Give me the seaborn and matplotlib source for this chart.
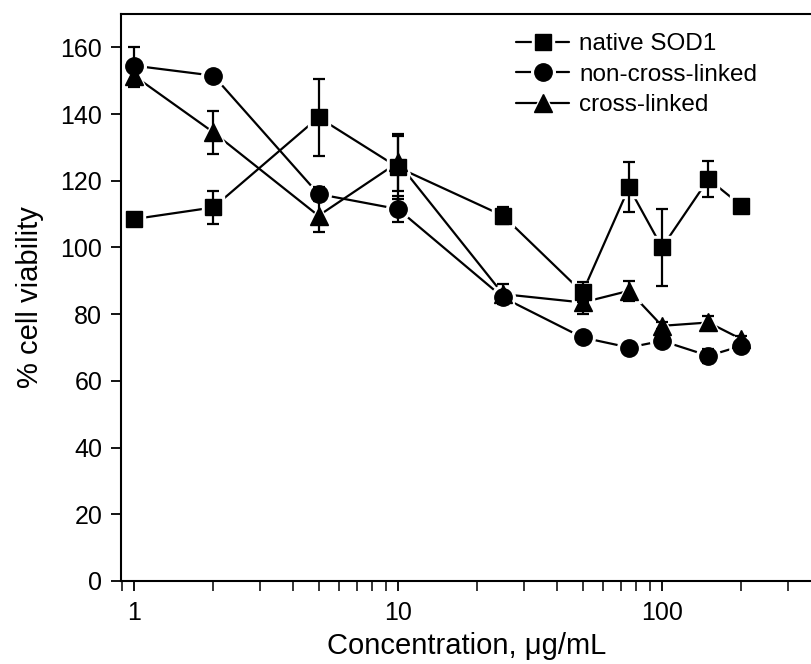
import numpy as np
import pandas as pd
import seaborn as sns
import matplotlib.pyplot as plt
from matplotlib.lines import Line2D
from matplotlib.legend_handler import HandlerTuple
from matplotlib.ticker import LogLocator, NullFormatter, FixedLocator

# data
conc = [1, 2, 5, 10, 25, 50, 75, 100, 150, 200]

native = [108.5, 112, 139, 124, 109.5, 86.5, 118, 100, 120.5, 112.5]
native_err = [1, 5, 11.5, 9.5, 2.5, 3, 7.5, 11.5, 5.5, 1.5]

noncl = [154.5, 151.5, 116, 111.5, 85, 73, 70, 72, 67.5, 70.5]
noncl_err = [5.5, 1, 2, 4, 1, 1, 1, 1, 2, 1]

cross = [151.5, 134.5, 109.5, 125.5, 86, 83.5, 87, 76.5, 77.5, 72.5]
cross_err = [3.5, 6.5, 5, 8.5, 3, 3.5, 3, 1, 2, 1]

series = [
    ("native SOD1", native, native_err, "s", 11.5),
    ("non-cross-linked", noncl, noncl_err, "o", 12.5),
    ("cross-linked", cross, cross_err, "^", 13),
]

sns.set_theme(style="ticks")
plt.rcParams['font.family'] = ['Liberation Sans', 'DejaVu Sans']
plt.rcParams['text.color'] = 'black'

fig = plt.figure(figsize=(8.12, 6.64), dpi=100)
ax = fig.add_axes([0.149, 0.125, 0.851, 0.854])

lw = 1.6
halo = 4.5
handles = []
for name, vals, err, mk, ms in series:
    df = pd.DataFrame({"conc": conc, "val": vals})
    # connecting line
    sns.lineplot(data=df, x="conc", y="val", ax=ax, color="black",
                 linewidth=lw, zorder=2, legend=False)
    # white halo so the lines stop short of the symbols
    ax.plot(conc, vals, linestyle="none", marker=mk, markersize=ms + halo,
            markerfacecolor="white", markeredgecolor="white", zorder=3)
    ax.errorbar(conc, vals, yerr=err, fmt="none", ecolor="black",
                elinewidth=lw, capsize=4, capthick=lw, zorder=4)

for name, vals, err, mk, ms in series:
    ax.plot(conc, vals, linestyle="none", marker=mk, markersize=ms,
            markerfacecolor="black", markeredgecolor="black", zorder=5)
    h_line = Line2D([], [], color="black", linewidth=lw)
    h_halo = Line2D([], [], linestyle="none", marker=mk, markersize=ms + halo,
                    markerfacecolor="white", markeredgecolor="white")
    h_mark = Line2D([], [], linestyle="none", marker=mk, markersize=ms,
                    markerfacecolor="black", markeredgecolor="black")
    handles.append((h_line, h_halo, h_mark))

ax.set_xscale("log")
ax.set_xlim(0.893, 370)
ax.set_ylim(0, 170)
ax.set_yticks(np.arange(0, 161, 20))
ax.xaxis.set_major_locator(FixedLocator([1, 10, 100]))
ax.set_xticklabels(["1", "10", "100"])
ax.xaxis.set_minor_locator(LogLocator(base=10, subs=np.arange(2, 10)))
ax.xaxis.set_minor_formatter(NullFormatter())

ax.tick_params(axis="both", which="major", direction="out", length=7.5,
               width=1.3, labelsize=18, color="black", labelcolor="black")
ax.tick_params(axis="y", which="major", pad=6)
ax.tick_params(axis="x", which="major", pad=7)
ax.tick_params(axis="x", which="minor", direction="out", length=7,
               width=1.1, color="black")

for side in ["left", "bottom", "top"]:
    ax.spines[side].set_visible(True)
    ax.spines[side].set_linewidth(1.5)
    ax.spines[side].set_color("black")
ax.spines["right"].set_visible(False)

ax.set_xlabel("Concentration, μg/mL", fontsize=21, color="black", labelpad=5)
ax.set_ylabel("% cell viability", fontsize=21, color="black", labelpad=12)

leg = ax.legend(handles, [s[0] for s in series],
                handler_map={tuple: HandlerTuple(ndivide=1, pad=0)},
                loc="upper left", bbox_to_anchor=(516 / 812, 1 - 33 / 664),
                bbox_transform=fig.transFigure, frameon=False,
                fontsize=17.5, handlelength=2.2, handletextpad=0.4,
                labelspacing=0.35, borderaxespad=0, borderpad=0)
for t in leg.get_texts():
    t.set_color("black")

fig.savefig("out.png", dpi=100)
